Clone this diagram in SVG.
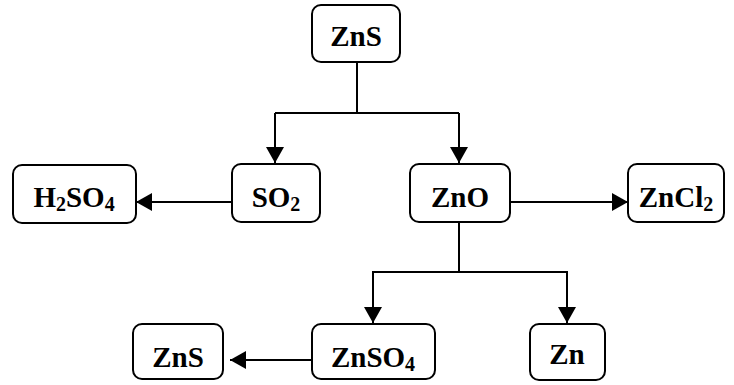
<svg xmlns="http://www.w3.org/2000/svg" width="734" height="385" viewBox="0 0 734 385">
<style>
.box{fill:#fff;stroke:#000;stroke-width:2}
.t{font-family:"Liberation Serif","Times New Roman",serif;font-weight:bold;font-size:29px;fill:#000;text-anchor:middle}
.s{font-size:20px}
.c{fill:none;stroke:#000;stroke-width:2}
</style>
<defs>
<marker id="b" viewBox="0 0 16 18" refX="16" refY="9" markerWidth="16" markerHeight="18" markerUnits="userSpaceOnUse" orient="auto"><path d="M0,0 L16,9 L0,18 Z" fill="#000"/></marker>
</defs>
<g id="connectors">
<path class="c" d="M357,62 V113"/>
<path class="c" d="M275,113 H459"/>
<path class="c" d="M275,113 V163" marker-end="url(#b)"/>
<path class="c" d="M459,113 V163" marker-end="url(#b)"/>
<path class="c" d="M232,202 H136" marker-end="url(#b)"/>
<path class="c" d="M510,202 H628" marker-end="url(#b)"/>
<path class="c" d="M459,222 V272 H373 V323" marker-end="url(#b)"/>
<path class="c" d="M459,272 H567 V323" marker-end="url(#b)"/>
<path class="c" d="M312,360 H230" marker-end="url(#b)"/>
</g>
<g id="n-zns-top"><rect class="box" x="312" y="5" width="88" height="57" rx="9"/><text class="t" x="356" y="46">ZnS</text></g>
<g id="n-so2"><rect class="box" x="232" y="164" width="88" height="58" rx="9"/><text class="t" x="276" y="207">SO<tspan class="s" dy="4">2</tspan></text></g>
<g id="n-h2so4"><rect class="box" x="13" y="165" width="123" height="58" rx="9"/><text class="t" x="74" y="207">H<tspan class="s" dy="4">2</tspan><tspan dy="-4">SO</tspan><tspan class="s" dy="4">4</tspan></text></g>
<g id="n-zno"><rect class="box" x="410" y="164" width="100" height="58" rx="9"/><text class="t" x="460" y="207">ZnO</text></g>
<g id="n-zncl2"><rect class="box" x="628" y="164" width="96" height="58" rx="9"/><text class="t" x="676" y="207">ZnCl<tspan class="s" dy="4">2</tspan></text></g>
<g id="n-znso4"><rect class="box" x="312" y="324" width="123" height="55" rx="9"/><text class="t" x="373" y="367">ZnSO<tspan class="s" dy="4">4</tspan></text></g>
<g id="n-zns-bottom"><rect class="box" x="133" y="324" width="90" height="55" rx="9"/><text class="t" x="178" y="367">ZnS</text></g>
<g id="n-zn"><rect class="box" x="530" y="324" width="75" height="56" rx="9"/><text class="t" x="567" y="364">Zn</text></g>
</svg>
